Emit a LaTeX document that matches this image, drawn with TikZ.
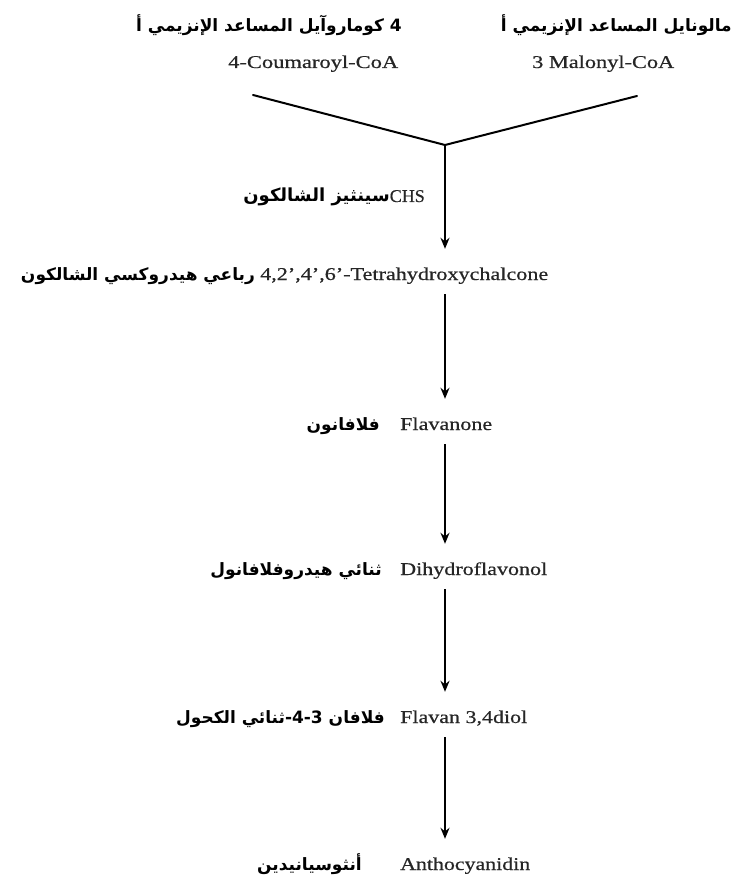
\documentclass[tikz,border=0pt]{standalone}
\usepackage{fontspec}
\usepackage{graphicx}
\setmainfont{Liberation Serif}[FakeBold=0.5]
\newfontfamily\arabicfont[Script=Arabic]{DejaVu Sans}
\TeXXeTstate=1
\usetikzlibrary{arrows.meta}
\newcommand\fitw[2]{\resizebox{#1}{\height}{#2}}
\newcommand\artxt[1]{{\arabicfont\bfseries\beginR #1\endR}}
\begin{document}
\begin{tikzpicture}[x=1pt,y=-1pt,
  lat/.style={inner sep=0pt, font=\fontsize{18}{20}\selectfont, text height=13pt, text depth=4pt, text=black!85},
  arb/.style={inner sep=0pt, font=\fontsize{17}{20}\selectfont},
  ln/.style={line width=2pt, line cap=round},
  arr/.style={line width=1.8pt, -{Stealth[length=11pt,width=9pt]}, shorten <=10pt, shorten >=18pt}]
\useasboundingbox (0,0) rectangle (733,885);
% top
\node[arb, anchor=base east] (tlA) at (402,32) {\artxt{4 كوماروآيل المساعد الإنزيمي أ}};
\node[arb, anchor=base east] (trA) at (732,32) {\artxt{مالونايل المساعد الإنزيمي أ}};
\node[lat, anchor=base west] (cou) at (228,68) {\fitw{170pt}{4-Coumaroyl-CoA}};
\node[lat, anchor=base west] (mal) at (532,68) {\fitw{142pt}{3 Malonyl-CoA}};
% CHS
\node[lat, anchor=base east] (chs) at (425,202) {{\color{black}\artxt{سينثيز الشالكون}}CHS};
% rows
\node[lat, anchor=base west] (tetra) at (260,280) {\fitw{288pt}{4,2',4',6'-Tetrahydroxychalcone}};
\node[arb, anchor=base east] (tetraA) at ([xshift=-5pt]tetra.base west) {\artxt{رباعي هيدروكسي الشالكون}};
\node[lat, anchor=base west] (flav) at (400,430) {\fitw{92pt}{Flavanone}};
\node[arb, anchor=base east] (flavA) at (380,430) {\artxt{فلافانون}};
\node[lat, anchor=base west] (dihy) at (400,575) {\fitw{147pt}{Dihydroflavonol}};
\node[arb, anchor=base east] (dihyA) at (382,575) {\artxt{ثنائي هيدروفلافانول}};
\node[lat, anchor=base west] (fdiol) at (400,723) {\fitw{127pt}{Flavan 3,4diol}};
\node[arb, anchor=base east] (fdiolA) at (385,723) {\artxt{فلافان 4-3-ثنائي الكحول}};
\node[lat, anchor=base west] (anth) at (400,870) {\fitw{130pt}{Anthocyanidin}};
\node[arb, anchor=base east] (anthA) at (362,870) {\artxt{أنثوسيانيدين}};
% connectors
\coordinate (j) at (445,145);
\coordinate (lt) at (253,95);
\coordinate (rt) at (637,96);
\draw[ln] (lt) -- (j) -- (rt);
\draw[arr, shorten <=0pt] (j) -- (j |- tetra.north);
\draw[arr] (j |- tetra.south) -- (j |- flav.north);
\draw[arr] (j |- flav.south) -- (j |- dihy.north);
\draw[arr] (j |- dihy.south) -- (j |- fdiol.north);
\draw[arr] (j |- fdiol.south) -- (j |- anth.north);
\end{tikzpicture}
\end{document}
